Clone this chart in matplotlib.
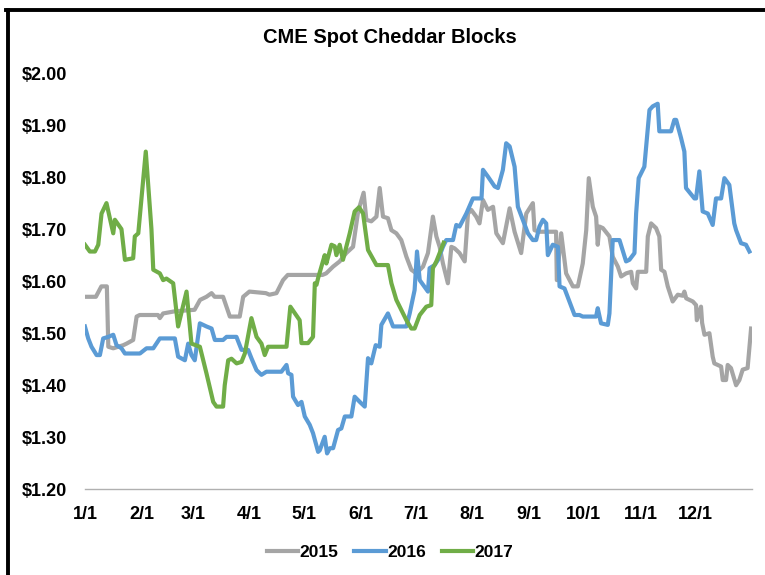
import matplotlib
matplotlib.use("Agg")
import matplotlib.pyplot as plt
from matplotlib.lines import Line2D
from matplotlib.ticker import FuncFormatter

plt.rcParams['font.family'] = ['Liberation Sans', 'DejaVu Sans']
plt.rcParams['font.weight'] = 'bold'

# day of year (0 = Jan 1) and price
days_2015 = [0, 6, 9, 12, 12.8, 15.5, 21, 22.8, 26.4, 28.3,
             30, 40, 41, 42.8, 49, 60, 63, 66.5, 69.3, 71,
             75.6, 79.3, 84.7, 86.6, 90, 99, 101, 104.8, 108.4, 111,
             130, 132, 135.8, 139.4, 143, 146.7, 149.5, 152.5, 154, 156.7,
             159.5, 161.3, 163.1, 165.8, 167.7, 170.4, 173.1, 175.9, 178.6, 181.3,
             185, 187.7, 190.4, 192.3, 194.1, 195.9, 198.6, 200.5, 202.3, 205,
             207.8, 209.6, 211.4, 214.1, 215.9, 217.8, 220.5, 223.3, 225.1, 228.7,
             232.4, 235.1, 238.7, 241.5, 245.1, 246, 248.7, 257.8, 258.2, 260.6,
             263.3, 267, 269.7, 272.4, 274.3, 275.7, 277.9, 279.7, 280.6, 281.5,
             283.4, 287, 288.8, 291.6, 293.4, 296.1, 298.9, 299.8, 301.6, 302.5,
             307.1, 308, 309.8, 312.5, 314.3, 315.3, 317.1, 318.9, 321.6, 324.4,
             327.1, 328, 329, 332.6, 334.4, 334.8, 337.1, 337.7, 339, 341.7,
             343.5, 344.4, 348.1, 349, 350.8, 351.7, 353.5, 356.3, 358.1, 359.9,
             362.6, 364.5]
price_2015 = [1.57, 1.57, 1.59, 1.59, 1.474, 1.471, 1.477, 1.48, 1.487, 1.532,
              1.535, 1.535, 1.529, 1.538, 1.542, 1.545, 1.564, 1.57, 1.577, 1.57,
              1.57, 1.532, 1.532, 1.57, 1.58, 1.577, 1.574, 1.577, 1.602, 1.612,
              1.612, 1.615, 1.628, 1.638, 1.654, 1.666, 1.734, 1.77, 1.718, 1.715,
              1.724, 1.779, 1.724, 1.721, 1.698, 1.692, 1.679, 1.647, 1.622, 1.615,
              1.628, 1.654, 1.724, 1.686, 1.666, 1.634, 1.596, 1.666, 1.663, 1.654,
              1.638, 1.73, 1.737, 1.724, 1.711, 1.756, 1.737, 1.743, 1.692, 1.673,
              1.74, 1.695, 1.654, 1.73, 1.75, 1.698, 1.695, 1.695, 1.602, 1.692,
              1.615, 1.59, 1.59, 1.634, 1.698, 1.798, 1.743, 1.724, 1.67, 1.705,
              1.702, 1.686, 1.647, 1.628, 1.609, 1.615, 1.618, 1.596, 1.586, 1.618,
              1.618, 1.686, 1.711, 1.702, 1.686, 1.622, 1.618, 1.59, 1.561, 1.574,
              1.572, 1.58, 1.567, 1.561, 1.554, 1.525, 1.551, 1.52, 1.497, 1.5,
              1.455, 1.442, 1.436, 1.41, 1.41, 1.439, 1.433, 1.40, 1.41, 1.43,
              1.433, 1.509]

days_2016 = [0, 1.8, 3.6, 6.4, 8.2, 10, 12.8, 15.5, 17.3, 20,
             21.9, 30.1, 33.7, 37.4, 41, 49.2, 51, 54.7, 56.5, 58.3,
             60.1, 62.9, 66.5, 69.3, 71.1, 75.6, 77.5, 82.9, 85.7, 89.3,
             91.1, 93.9, 96.6, 99.3, 107.5, 110.3, 111.2, 113, 113.9, 116.6,
             118.5, 120.3, 123, 124.8, 127.6, 128.5, 131.2, 132.5, 134, 135.8,
             138.5, 140.3, 142.2, 145.8, 147.6, 150.4, 153.1, 154.9, 156.7, 159.1,
             161.3, 162.2, 165.8, 168.6, 175.9, 177.7, 180.4, 181.7, 183.2, 187.7,
             188.6, 191.4, 193.2, 195.9, 197.7, 201.4, 203.2, 205, 208.7, 212.3,
             217, 217.8, 220.5, 224.2, 226, 228.7, 230.5, 232.4, 235.1, 236.9,
             239.6, 242.4, 245.1, 246.9, 248.7, 250.6, 252.4, 253.3, 256, 258.8,
             259.7, 262.4, 265.1, 267.9, 270.6, 272.4, 279.7, 280.6, 282.4, 286.1,
             287, 288.8, 292.5, 296.1, 297.9, 300.7, 301.6, 303, 306.1, 308.9,
             310.7, 313.4, 314.3, 320.7, 322.5, 323.5, 326.2, 328, 328.9, 333.5,
             334.4, 336.2, 338, 340.8, 343.5, 345.3, 348.1, 349.9, 352.6, 355.3,
             356.3, 359, 361.7, 363.6]
price_2016 = [1.513, 1.49, 1.474, 1.458, 1.458, 1.49, 1.493, 1.497, 1.477, 1.471,
              1.461, 1.461, 1.471, 1.471, 1.49, 1.49, 1.455, 1.448, 1.48, 1.458,
              1.448, 1.519, 1.513, 1.509, 1.487, 1.487, 1.493, 1.493, 1.468, 1.468,
              1.452, 1.429, 1.42, 1.426, 1.426, 1.439, 1.423, 1.42, 1.378, 1.362,
              1.368, 1.34, 1.324, 1.308, 1.272, 1.275, 1.301, 1.269, 1.279, 1.279,
              1.314, 1.317, 1.34, 1.34, 1.378, 1.368, 1.359, 1.452, 1.442, 1.477,
              1.474, 1.516, 1.538, 1.513, 1.513, 1.538, 1.583, 1.657, 1.602, 1.58,
              1.625, 1.631, 1.641, 1.666, 1.679, 1.679, 1.708, 1.705, 1.73, 1.759,
              1.759, 1.814, 1.801, 1.782, 1.779, 1.814, 1.865, 1.859, 1.82, 1.743,
              1.718, 1.692, 1.679, 1.679, 1.705, 1.718, 1.711, 1.65, 1.67, 1.666,
              1.59, 1.586, 1.561, 1.535, 1.535, 1.532, 1.532, 1.548, 1.519, 1.516,
              1.538, 1.679, 1.679, 1.638, 1.641, 1.654, 1.73, 1.798, 1.82, 1.929,
              1.936, 1.941, 1.888, 1.888, 1.91, 1.91, 1.875, 1.849, 1.779, 1.759,
              1.759, 1.811, 1.734, 1.73, 1.708, 1.759, 1.759, 1.798, 1.785, 1.711,
              1.698, 1.673, 1.67, 1.657]

days_2017 = [0, 2.7, 5.5, 7.3, 9.1, 11.8, 15.5, 16.4, 20, 21.9,
             26.4, 27.3, 29.2, 33.3, 36.4, 37.4, 41, 42.8, 44.6, 48.3,
             51, 55.6, 58.3, 62.9, 66.5, 70.2, 72, 75.6, 76.5, 78.4,
             80.2, 83, 85.7, 87.5, 91.1, 93.9, 96.6, 98.4, 100.2, 110.3,
             112.4, 117.5, 118.5, 122.1, 124.8, 125.8, 126.7, 127.6, 131.2, 132.1,
             134.9, 136.7, 137.6, 139.4, 141.2, 144.9, 147.6, 150, 152.2, 154.9,
             159.5, 165.8, 167.7, 170.4, 175.9, 178.6, 180.4, 183.2, 186.8, 189.5,
             190.4, 192.3, 194.1, 196.3]
price_2017 = [1.67, 1.657, 1.657, 1.67, 1.73, 1.75, 1.692, 1.718, 1.70, 1.641,
              1.644, 1.686, 1.692, 1.849, 1.70, 1.622, 1.615, 1.602, 1.605, 1.596,
              1.513, 1.58, 1.48, 1.474, 1.423, 1.368, 1.359, 1.359, 1.40, 1.448,
              1.451, 1.442, 1.445, 1.461, 1.529, 1.493, 1.48, 1.458, 1.474, 1.474,
              1.551, 1.525, 1.481, 1.481, 1.493, 1.596, 1.593, 1.606, 1.65, 1.634,
              1.67, 1.667, 1.65, 1.67, 1.641, 1.692, 1.734, 1.742, 1.73, 1.66,
              1.631, 1.631, 1.596, 1.564, 1.525, 1.509, 1.509, 1.535, 1.551, 1.554,
              1.625, 1.638, 1.654, 1.674]

month_starts = [0, 31, 59, 90, 120, 151, 181, 212, 243, 273, 304, 334]
month_labels = ['1/1', '2/1', '3/1', '4/1', '5/1', '6/1',
                '7/1', '8/1', '9/1', '10/1', '11/1', '12/1']

fig = plt.figure(figsize=(7.65, 5.75), dpi=100)
ax = fig.add_axes([0.111, 0.149, 0.872, 0.724])

ax.plot(days_2015, price_2015, color='#A5A5A5', lw=3, label='2015')
ax.plot(days_2016, price_2016, color='#5B9BD5', lw=3, label='2016')
ax.plot(days_2017, price_2017, color='#70AD47', lw=3, label='2017')

ax.set_xlim(0, 365)
ax.set_ylim(1.2, 2.0)
ax.set_yticks([1.2 + 0.1 * i for i in range(9)])
ax.yaxis.set_major_formatter(FuncFormatter(lambda v, p: '${:.2f}'.format(v)))
ax.set_xticks(month_starts)
ax.set_xticklabels(month_labels)
ax.tick_params(axis='both', length=0, labelsize=13)
ax.tick_params(axis='y', pad=13)
ax.tick_params(axis='x', pad=12)
for s in ['top', 'right', 'left']:
    ax.spines[s].set_visible(False)
ax.spines['bottom'].set_color('#B0B0B0')
ax.spines['bottom'].set_linewidth(1)

fig.text(0.51, 0.934, 'CME Spot Cheddar Blocks', ha='center', va='center',
         fontsize=14.5, fontweight='bold')

fig.legend(loc='center', bbox_to_anchor=(0.51, 0.04), ncol=3, frameon=False,
           fontsize=12.5, handlelength=1.8, handletextpad=0.1, columnspacing=0.9)

# black frame on the left and top edges
fig.add_artist(Line2D([0.010, 0.010], [0.0, 0.983], color='black', lw=2.8,
                      transform=fig.transFigure))
fig.add_artist(Line2D([0.008, 1.0], [0.983, 0.983], color='black', lw=2.8,
                      transform=fig.transFigure))

fig.savefig('out.png', dpi=100)
